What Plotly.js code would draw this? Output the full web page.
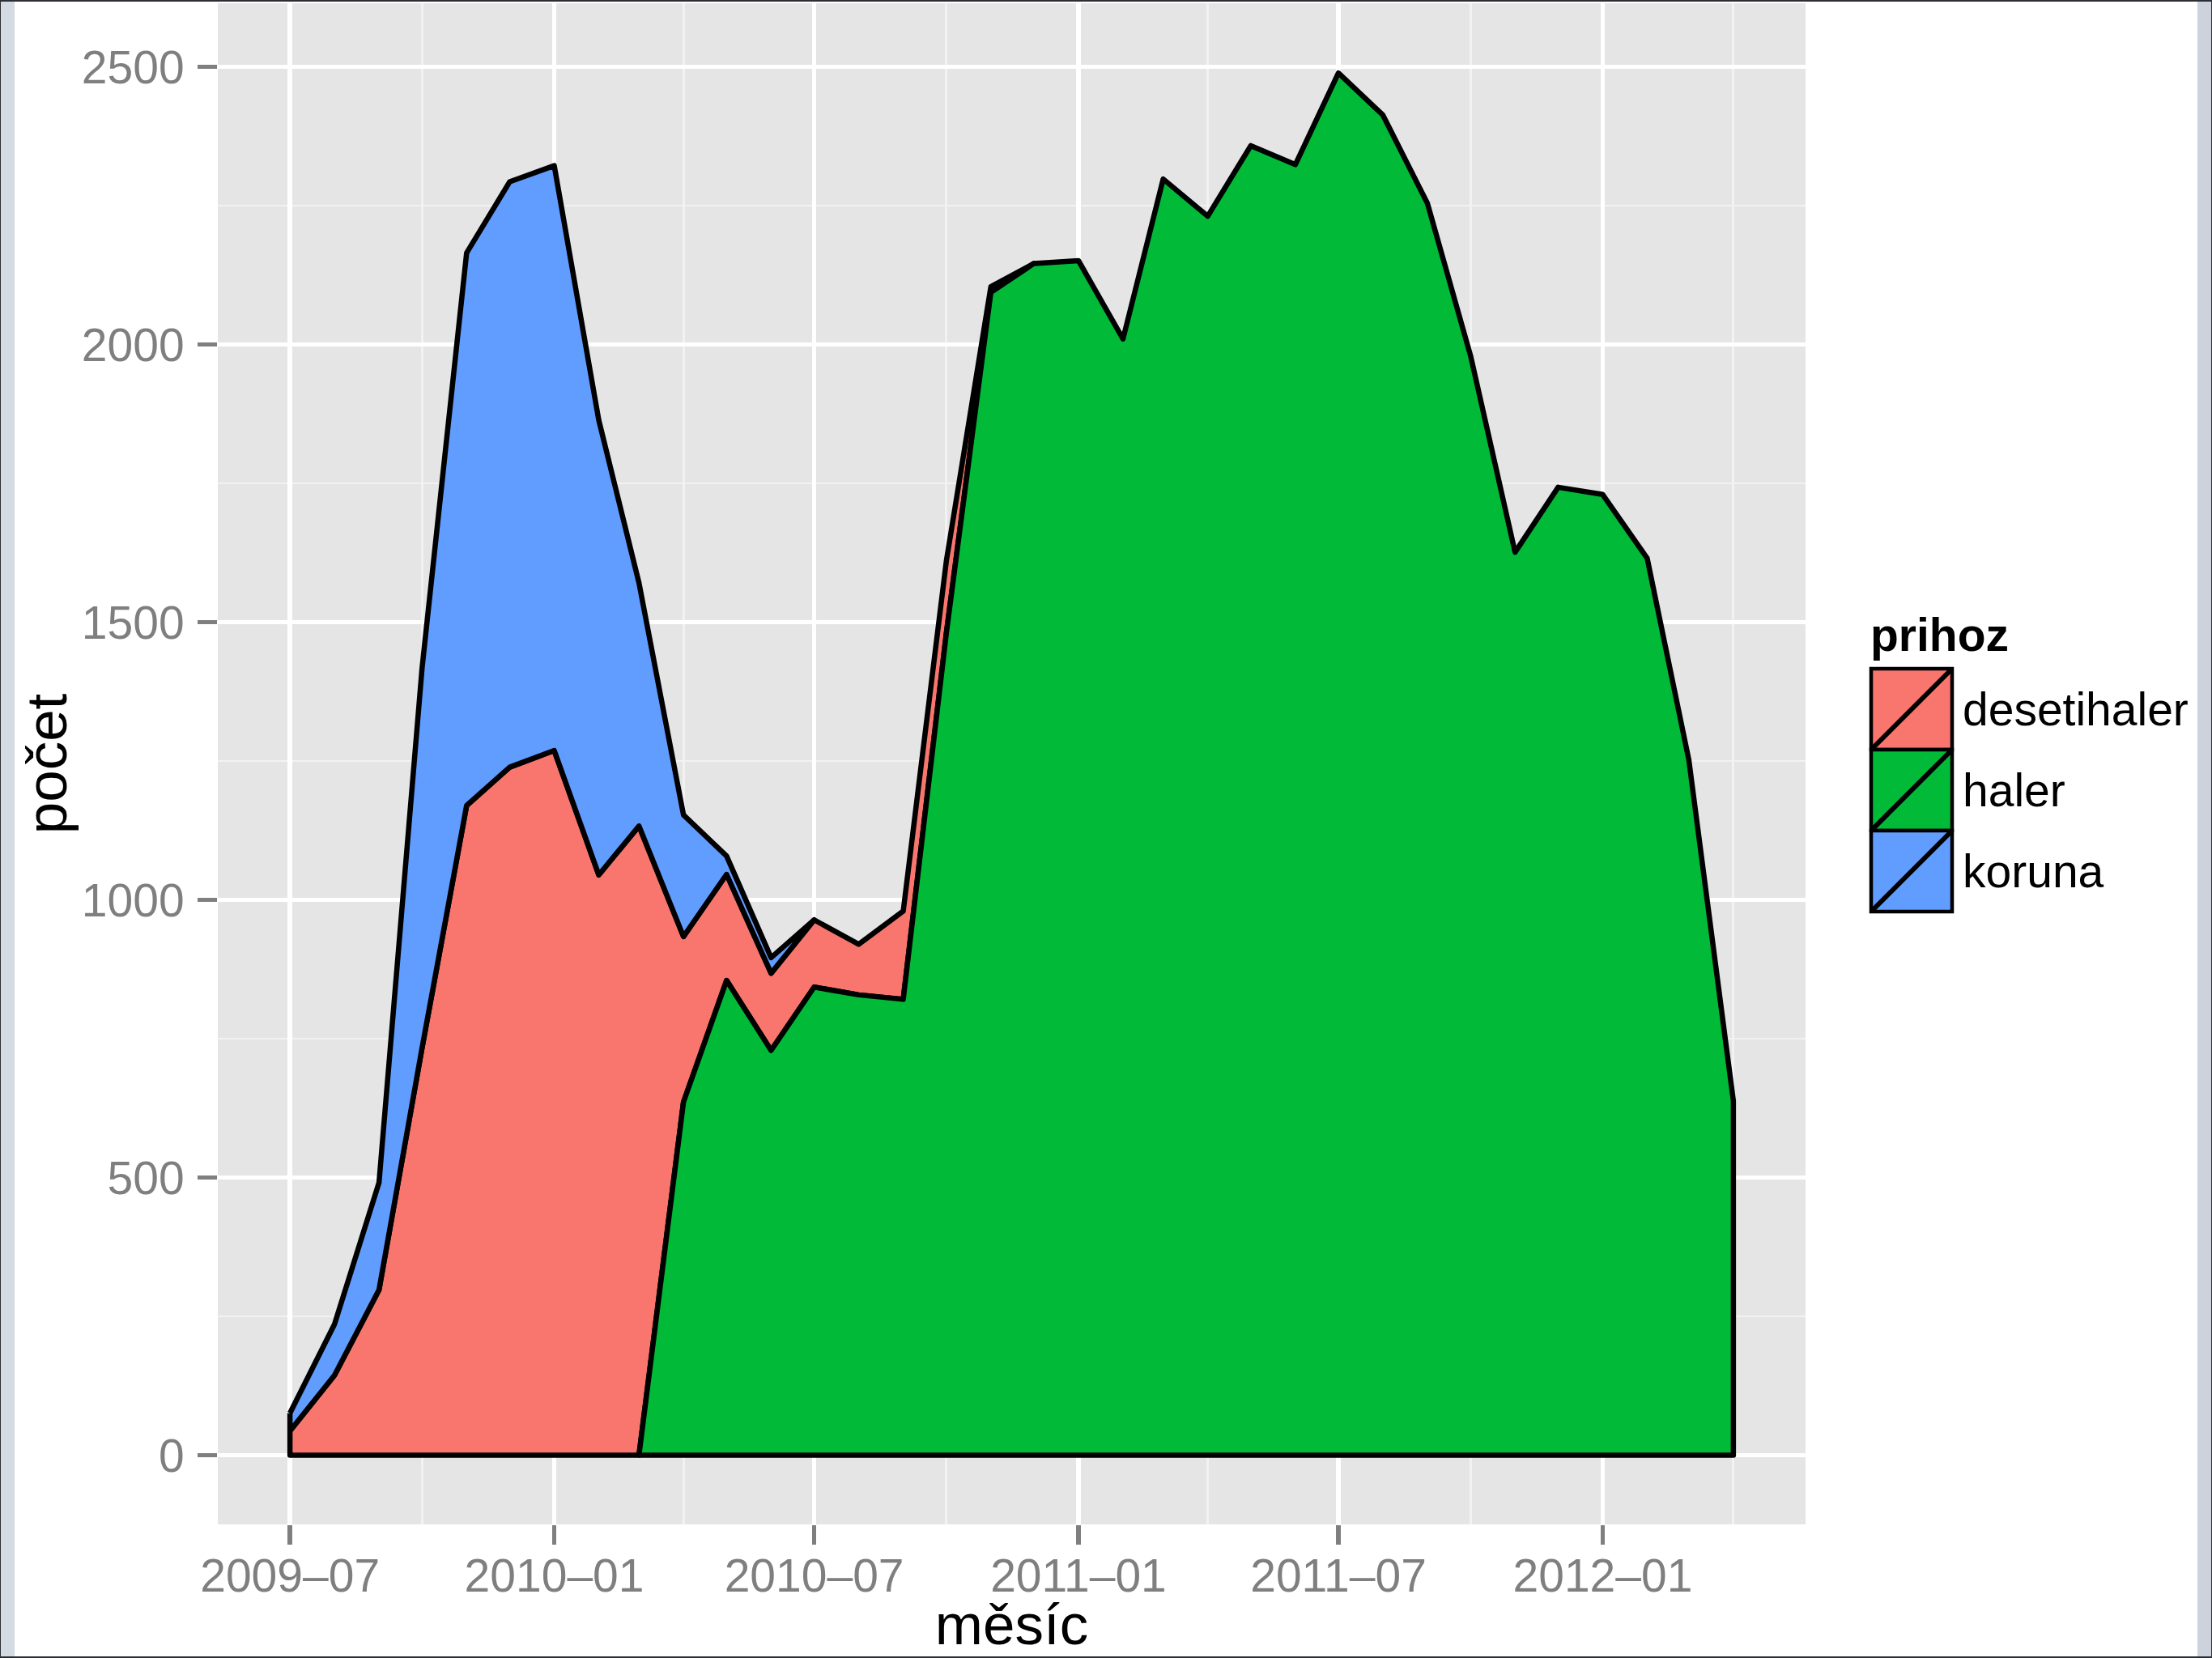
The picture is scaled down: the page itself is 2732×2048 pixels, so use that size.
<!DOCTYPE html>
<html>
<head>
<meta charset="utf-8">
<script src="https://cdn.plot.ly/plotly-3.0.1.min.js"></script>
<style>
  html, body { margin: 0; padding: 0; width: 2732px; height: 2048px; overflow: hidden; background: #2b2f33; }
  #lstrip { position: absolute; left: 1px; top: 2px; width: 17px; height: 2044px; background: #d3dae2; }
  #rstrip { position: absolute; left: 2714px; top: 2px; width: 17px; height: 2044px; background: #ccd3dc; }
  #plot { position: absolute; left: 18px; top: 2px; width: 2696px; height: 2044px; background: #ffffff; }
  .js-line { stroke-linejoin: round; }
</style>
</head>
<body>
<div id="lstrip"></div>
<div id="rstrip"></div>
<div id="plot"></div>
<script>
// ---- data ----
const months = ['2009-07','2009-08','2009-09','2009-10','2009-11','2009-12',
  '2010-01','2010-02','2010-03','2010-04','2010-05','2010-06',
  '2010-07','2010-08','2010-09','2010-10','2010-11','2010-12',
  '2011-01','2011-02','2011-03','2011-04','2011-05','2011-06',
  '2011-07','2011-08','2011-09','2011-10','2011-11','2011-12',
  '2012-01','2012-02','2012-03','2012-04'];

const haler = [null, null, null, null, null, null, null, null,
  0, 636, 855, 729, 843, 829, 821, 1480, 2094, 2146,
  2151, 2010, 2298, 2231, 2358, 2324, 2489, 2413, 2254, 1980, 1626, 1743,
  1730, 1615, 1252, 638];

const desetihaler = [44, 144, 298, 734, 1170, 1239, 1269, 1045, 1133, 298, 191, 139,
  121, 91, 159, 130, 10, 0,
  null, null, null, null, null, null, null, null, null, null, null, null,
  null, null, null, null];

const koruna = [32, 92, 193, 684, 995, 1054, 1053, 819, 438, 219, 33, 28, 0,
  null, null, null, null, null, null, null, null, null, null, null, null,
  null, null, null, null, null, null, null, null, null];

const seriesNames = ['desetihaler', 'haler', 'koruna'];
const seriesColors = {desetihaler: '#F8766D', haler: '#00BA38', koruna: '#619CFF'};
const seriesValues = {desetihaler: desetihaler, haler: haler, koruna: koruna};
const stackOrder = ['haler', 'desetihaler', 'koruna'];   // bottom to top
const legendTitle = 'prihoz';
const xTitle = 'měsíc';
const yTitle = 'počet';

// ---- build stacked polygons (ggplot-style outlined areas) ----
const base = months.map(() => 0);
const polys = {};
stackOrder.forEach(name => {
  const vals = seriesValues[name];
  const idx = [];
  vals.forEach((v, i) => { if (v !== null) idx.push(i); });
  const xs = [], ys = [];
  idx.forEach(i => { xs.push(months[i]); ys.push(base[i] + vals[i]); });
  idx.slice().reverse().forEach(i => { xs.push(months[i]); ys.push(base[i]); });
  xs.push(xs[0]); ys.push(ys[0]);
  idx.forEach(i => { base[i] += vals[i]; });
  polys[name] = {x: xs, y: ys};
});

const traces = seriesNames.map(name => ({
  type: 'scatter', mode: 'lines', name: name,
  x: polys[name].x, y: polys[name].y,
  fill: 'toself', fillcolor: seriesColors[name],
  line: {color: '#000000', width: 6.5, shape: 'linear'},
  showlegend: false, hoverinfo: 'skip'
}));

// ---- layout helpers (page pixel -> paper) ----
const PL = 269, PR = 2230, PT = 4, PB = 1883;
const px = x => (x - PL) / (PR - PL);
const py = y => (PB - y) / (PB - PT);

const FONT = 'Liberation Sans, Arial, Helvetica, sans-serif';
const shapes = [];
const annotations = [];

// custom ggplot-like legend
const keyL = 2311, keyR = 2411, keyTop = 826, keyH = 100;
seriesNames.forEach((name, k) => {
  const t = keyTop + k * keyH, b = t + keyH;
  shapes.push({type: 'rect', xref: 'paper', yref: 'paper',
    x0: px(keyL), x1: px(keyR), y0: py(b), y1: py(t),
    fillcolor: seriesColors[name], line: {color: '#000000', width: 4.5}, layer: 'above'});
  shapes.push({type: 'line', xref: 'paper', yref: 'paper',
    x0: px(keyL), x1: px(keyR), y0: py(b), y1: py(t),
    line: {color: '#000000', width: 6}, layer: 'above'});
  annotations.push({xref: 'paper', yref: 'paper', x: px(2422), y: py(t + keyH / 2),
    xanchor: 'left', yanchor: 'middle', showarrow: false, text: name,
    font: {family: FONT, size: 57, color: '#000000'}});
});
annotations.push({xref: 'paper', yref: 'paper', x: px(2308), y: py(784),
  xanchor: 'left', yanchor: 'middle', showarrow: false, text: '<b>' + legendTitle + '</b>',
  font: {family: FONT, size: 57, color: '#000000'}});

const layout = {
  width: 2696, height: 2044,
  margin: {l: PL - 18, r: 2714 - PR, t: PT - 2, b: 2046 - PB, pad: 0},
  paper_bgcolor: '#FFFFFF', plot_bgcolor: '#E5E5E5',
  showlegend: false,
  font: {family: FONT, color: '#7F7F7F'},
  xaxis: {
    type: 'date',
    range: ['2009-05-11 18:00', '2012-05-21 06:00'],
    tick0: '2009-07-01', dtick: 'M6', tickformat: '%Y–%m',
    ticks: 'outside', ticklen: 24, tickwidth: 5.5, tickcolor: '#7F7F7F',
    ticklabelstandoff: -10,
    tickfont: {family: FONT, size: 57, color: '#7F7F7F'},
    showgrid: true, gridcolor: '#FFFFFF', gridwidth: 5.5,
    minor: {tick0: '2009-07-01', dtick: 'M3', showgrid: true, gridcolor: '#F2F2F2', gridwidth: 2.8, ticks: ''},
    zeroline: false, showline: false, fixedrange: true,
    title: {text: xTitle, font: {family: FONT, size: 71, color: '#000000'}, standoff: 22}
  },
  yaxis: {
    range: [-124.5, 2614.5],
    tick0: 0, dtick: 500,
    ticks: 'outside', ticklen: 24, tickwidth: 5.5, tickcolor: '#7F7F7F',
    ticklabelstandoff: 5,
    tickfont: {family: FONT, size: 57, color: '#7F7F7F'},
    showgrid: true, gridcolor: '#FFFFFF', gridwidth: 5.5,
    minor: {tick0: 0, dtick: 250, showgrid: true, gridcolor: '#F2F2F2', gridwidth: 2.8, ticks: ''},
    zeroline: false, showline: false, fixedrange: true,
    title: {text: yTitle, font: {family: FONT, size: 71, color: '#000000'}, standoff: 12}
  },
  shapes: shapes,
  annotations: annotations
};

Plotly.newPlot('plot', traces, layout, {staticPlot: true, displayModeBar: false});
</script>
</body>
</html>
